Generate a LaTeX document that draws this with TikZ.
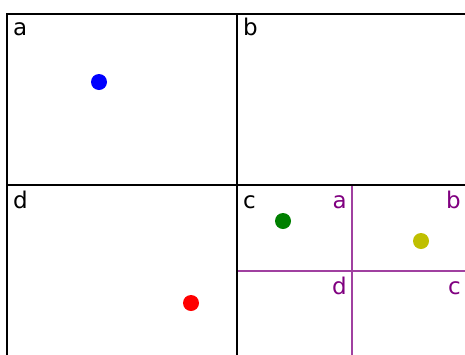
\documentclass[tikz,border=0pt]{standalone}
\usepackage{fontspec}
\setmainfont{DejaVu Sans}
\usepackage{tikz}
\definecolor{ptgreen}{RGB}{0,128,0}
\definecolor{ptyellow}{RGB}{191,191,0}
\definecolor{subpurple}{RGB}{128,0,128}

\begin{document}
\begin{tikzpicture}[x=1pt, y=-1pt,
    cellline/.style={line width=2pt, black},
    subline/.style={line width=1.3pt, subpurple!75},
    celllabel/.style={anchor=base west, inner sep=0pt, font=\fontsize{23}{27}\selectfont},
    sublabel/.style={anchor=base east, inner sep=0pt, text=subpurple, font=\fontsize{23}{27}\selectfont},
    point/.style={circle, fill=#1, inner sep=0pt, minimum size=16pt}]
                    \useasboundingbox (0,0) rectangle (465,354);
                    \clip (0,0) rectangle (465,354);
                    % Cells
                    \coordinate (nw) at (7,14);
                    \coordinate (se) at (467,356);
                    \coordinate (top) at (237,14);
                    \coordinate (bottom) at (237,356);
                    \coordinate (left) at (7,185);
                    \coordinate (right) at (467,185);
                    \coordinate (subtop) at (352,185);
                    \coordinate (subbottom) at (352,356);
                    \coordinate (subleft) at (237,271);
                    \coordinate (subright) at (467,271);
                    % Sub cell lines
                    \draw[subline] (subtop) -- (subbottom);
                    \draw[subline] (subleft) -- (subright);
                    % Cell lines
                    \draw[cellline] (nw) rectangle (se);
                    \draw[cellline] (top) -- (bottom);
                    \draw[cellline] (left) -- (right);
                    % Labels
                    \node[celllabel] (la) at (13,35) {a};
                    \node[celllabel] (lb) at (243,35) {b};
                    \node[celllabel] (ld) at (13,208) {d};
                    \node[celllabel] (lc) at (243,208) {c};
                    \node[sublabel] (sa) at (347,208) {a};
                    \node[sublabel] (sb) at (461,208) {b};
                    \node[sublabel] (sd) at (347,294) {d};
                    \node[sublabel] (sc) at (461,294) {c};
                    % Points
                    \node[point=blue] (p1) at (99,82) {};
                    \node[point=ptgreen] (p2) at (283,221) {};
                    \node[point=ptyellow] (p3) at (421,241) {};
                    \node[point=red] (p4) at (191,303) {};
                \end{tikzpicture}
\end{document}
